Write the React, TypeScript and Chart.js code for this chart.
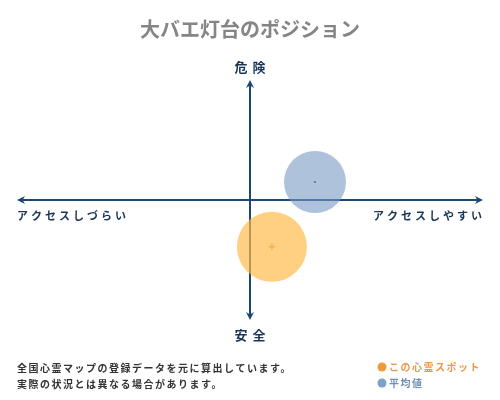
import React, { useEffect, useRef } from "react";
import { Chart, registerables } from "chart.js";

Chart.register(...registerables);

const TITLE = "大バエ灯台のポジション";
const Y_TOP_LABEL = "危険";
const Y_BOTTOM_LABEL = "安全";
const X_LEFT_LABEL = "アクセスしづらい";
const X_RIGHT_LABEL = "アクセスしやすい";
const NOTE_LINES = ["全国心霊マップの登録データを元に算出しています。", "実際の状況とは異なる場合があります。"];
const SERIES_NAMES = ["この心霊スポット", "平均値"];
const SPOT_POINT = [{ x: 0.094, y: -0.39 }];
const AVERAGE_POINT = [{ x: 0.279, y: 0.15 }];

const FONT = '"Noto Sans CJK JP", "Noto Sans", sans-serif';
const NAVY = "#1c4772";

const quadrantPlugin = {
  id: "quadrant",
  beforeDatasetsDraw(chart: any) {
    const { ctx } = chart;
    const xs = chart.scales.x;
    const ys = chart.scales.y;
    const cx = xs.getPixelForValue(0);
    const cy = ys.getPixelForValue(0);
    const left = xs.getPixelForValue(-1);
    const right = xs.getPixelForValue(1);
    const top = ys.getPixelForValue(1);
    const bottom = ys.getPixelForValue(-1);
    ctx.save();
    ctx.strokeStyle = NAVY;
    ctx.fillStyle = NAVY;
    ctx.lineWidth = 2;
    ctx.beginPath();
    ctx.moveTo(left + 4, cy);
    ctx.lineTo(right - 4, cy);
    ctx.moveTo(cx, top + 4);
    ctx.lineTo(cx, bottom - 4);
    ctx.stroke();
    const head = (x: number, y: number, dx: number, dy: number) => {
      const L = 8, W = 4;
      const px = -dy, py = dx;
      ctx.beginPath();
      ctx.moveTo(x, y);
      ctx.lineTo(x - dx * L + px * W, y - dy * L + py * W);
      ctx.lineTo(x - dx * L * 0.7, y - dy * L * 0.7);
      ctx.lineTo(x - dx * L - px * W, y - dy * L - py * W);
      ctx.closePath();
      ctx.fill();
    };
    head(right, cy, 1, 0);
    head(left, cy, -1, 0);
    head(cx, top, 0, -1);
    head(cx, bottom, 0, 1);
    ctx.restore();
  },
  afterDraw(chart: any) {
    const { ctx } = chart;
    const xs = chart.scales.x;
    const ys = chart.scales.y;
    const cx = xs.getPixelForValue(0);
    const cy = ys.getPixelForValue(0);
    const left = xs.getPixelForValue(-1);
    const right = xs.getPixelForValue(1);
    const top = ys.getPixelForValue(1);
    const bottom = ys.getPixelForValue(-1);
    ctx.save();
    ctx.textBaseline = "middle";

    ctx.fillStyle = "#858585";
    ctx.font = `bold 20px ${FONT}`;
    (ctx as any).letterSpacing = "0px";
    ctx.textAlign = "center";
    ctx.fillText(TITLE, 250, 29);

    ctx.fillStyle = "#1a3556";
    ctx.font = `bold 13px ${FONT}`;
    (ctx as any).letterSpacing = "5px";
    ctx.textAlign = "center";
    ctx.fillText(Y_TOP_LABEL, cx + 2.5, top - 13);
    ctx.fillText(Y_BOTTOM_LABEL, cx + 2.5, bottom + 15);
    ctx.font = `bold 11px ${FONT}`;
    (ctx as any).letterSpacing = "3px";
    ctx.textAlign = "left";
    ctx.fillText(X_LEFT_LABEL, left, cy + 16);
    ctx.textAlign = "right";
    ctx.fillText(X_RIGHT_LABEL, right + 2, cy + 16);

    ctx.font = `bold 10px ${FONT}`;
    (ctx as any).letterSpacing = "1.5px";
    ctx.textAlign = "left";
    ctx.fillStyle = "#333333";
    ctx.fillText(NOTE_LINES[0], 17, 368);
    ctx.fillText(NOTE_LINES[1], 17, 384);

    ctx.fillStyle = "#ef9a3c";
    ctx.beginPath();
    ctx.arc(382, 367, 4.5, 0, Math.PI * 2);
    ctx.fill();
    ctx.fillStyle = "#e79a4a";
    ctx.fillText(SERIES_NAMES[0], 389, 367);
    ctx.fillStyle = "#7ba2c8";
    ctx.beginPath();
    ctx.arc(382, 383, 4.5, 0, Math.PI * 2);
    ctx.fill();
    ctx.fillStyle = "#6f90b3";
    ctx.fillText(SERIES_NAMES[1], 389, 383);
    ctx.restore();
  },
};

export default function App() {
  const ref = useRef<HTMLCanvasElement>(null);
  useEffect(() => {
    if (!ref.current) return;
    const chart = new Chart(ref.current, {
      type: "scatter",
      data: {
        datasets: [
          {
            label: SERIES_NAMES[1],
            data: AVERAGE_POINT,
            pointRadius: 31,
            pointHoverRadius: 31,
            backgroundColor: "rgba(120,154,196,0.6)",
            borderWidth: 0,
          },
          {
            label: SERIES_NAMES[0],
            data: SPOT_POINT,
            pointRadius: 35,
            pointHoverRadius: 35,
            backgroundColor: "rgba(255,186,70,0.68)",
            borderWidth: 0,
          },
          {
            label: SERIES_NAMES[1] + " center",
            data: AVERAGE_POINT,
            pointRadius: 1,
            backgroundColor: "#1a2a40",
            borderWidth: 0,
          },
          {
            label: SERIES_NAMES[0] + " center",
            data: SPOT_POINT,
            pointStyle: "cross",
            pointRadius: 3,
            borderColor: "#f0a020",
            borderWidth: 1.5,
          },
        ],
      },
      options: {
        responsive: false,
        animation: false,
        layout: { autoPadding: false, padding: { left: 17, right: 17, top: 80, bottom: 80 } },
        scales: {
          x: { type: "linear", min: -1, max: 1, display: false },
          y: { type: "linear", min: -1, max: 1, display: false },
        },
        plugins: {
          legend: { display: false },
          tooltip: { enabled: false },
          title: { display: false },
        },
      },
      plugins: [quadrantPlugin],
    });
    return () => chart.destroy();
  }, []);
  return (
    <div style={{ position: "fixed", left: 0, top: 0, width: 500, height: 400, background: "#fff" }}>
      <canvas ref={ref} width={500} height={400} style={{ width: 500, height: 400 }} />
    </div>
  );
}
